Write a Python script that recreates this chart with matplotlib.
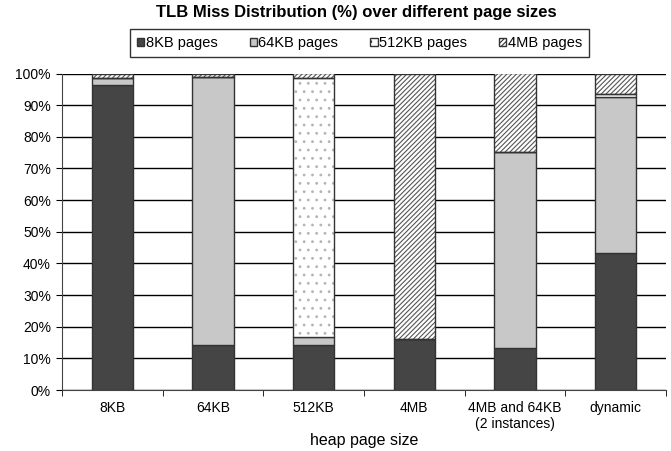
import matplotlib
matplotlib.use("Agg")
import matplotlib.pyplot as plt
import numpy as np
from matplotlib.patches import Patch

plt.rcParams['font.family'] = ['Liberation Sans', 'DejaVu Sans']
plt.rcParams['hatch.linewidth'] = 0.8

categories = ["8KB", "64KB", "512KB", "4MB", "4MB and 64KB\n(2 instances)", "dynamic"]
series_names = ["8KB pages", "64KB pages", "512KB pages", "4MB pages"]
pages_8kb = [96.5, 14.1, 14.2, 16.0, 13.2, 43.4]
pages_64kb = [2.0, 84.8, 2.6, 0.0, 62.1, 49.3]
pages_512kb = [0.0, 0.0, 81.9, 0.0, 0.0, 0.8]
pages_4mb = [1.5, 1.1, 1.3, 84.0, 24.7, 6.5]
yticks = [0, 10, 20, 30, 40, 50, 60, 70, 80, 90, 100]

W, H = 671, 451
fig = plt.figure(figsize=(W / 100, H / 100), dpi=100)
ax_l, ax_r, ax_t, ax_b = 62, 666, 73.5, 390
ax = fig.add_axes([ax_l / W, 1 - ax_b / H, (ax_r - ax_l) / W, (ax_b - ax_t) / H])

x = np.arange(len(categories))
w = 0.41
styles = [
    dict(facecolor="#454545", hatch=None, hcolor=None),
    dict(facecolor="#c8c8c8", hatch=None, hcolor=None),
    dict(facecolor="white", hatch="..", hcolor="#b4b4b4"),
    dict(facecolor="white", hatch="///////", hcolor="#555555"),
]
data = [pages_8kb, pages_64kb, pages_512kb, pages_4mb]
bottom = np.zeros(len(categories))
for vals, st in zip(data, styles):
    vals = np.array(vals)
    if st["hatch"]:
        ax.bar(x, vals, w, bottom=bottom, color=st["facecolor"], hatch=st["hatch"],
               edgecolor=st["hcolor"], linewidth=0, zorder=3)
        ax.bar(x, vals, w, bottom=bottom, fill=False, edgecolor="#333333",
               linewidth=1.0, zorder=4)
    else:
        ax.bar(x, vals, w, bottom=bottom, color=st["facecolor"], edgecolor="#333333",
               linewidth=1.0, zorder=3)
    bottom += vals

ax.set_xlim(-0.5, len(categories) - 0.5)
ax.set_ylim(0, 100)
ax.set_yticks(yticks)
ax.set_yticklabels([f"{t}%" for t in yticks], fontsize=10)
ax.yaxis.grid(True, color="black", linewidth=1.0, zorder=0)
ax.set_axisbelow(True)
ax.set_xticks(x)
ax.set_xticklabels(categories, fontsize=10, linespacing=1.2)
ax.tick_params(axis='x', length=0, pad=8)
ax.set_xticks(np.arange(len(categories) + 1) - 0.5, minor=True)
ax.tick_params(axis='x', which='minor', length=4, direction='out')
ax.tick_params(axis='y', length=4, direction='out', pad=4)
for s in ["top", "right"]:
    ax.spines[s].set_visible(False)
ax.spines["left"].set_color("#444444")
ax.spines["bottom"].set_color("#444444")
ax.set_xlabel("heap page size", fontsize=11.5, va="center")
ax.xaxis.set_label_coords(0.5, -(441 - ax_b) / (ax_b - ax_t))

handles = []
for name, st in zip(series_names, styles):
    handles.append(Patch(facecolor=st["facecolor"], edgecolor="#333333",
                         hatch=st["hatch"], label=name))
leg = fig.legend(handles=handles, ncol=4, loc="center",
                 bbox_to_anchor=(359.5 / W, 1 - 43 / H),
                 fontsize=10.5, frameon=True, fancybox=False, edgecolor="black",
                 handlelength=0.5, handleheight=0.5, handletextpad=0.1,
                 columnspacing=2.2, borderpad=0.45)
leg.get_frame().set_linewidth(1.0)

fig.text(0.5 * (147 + 565) / W, 1 - 13 / H,
         "TLB Miss Distribution (%) over different page sizes", fontsize=12,
         fontweight="bold", ha="center", va="center")

fig.savefig("out.png", dpi=100)
